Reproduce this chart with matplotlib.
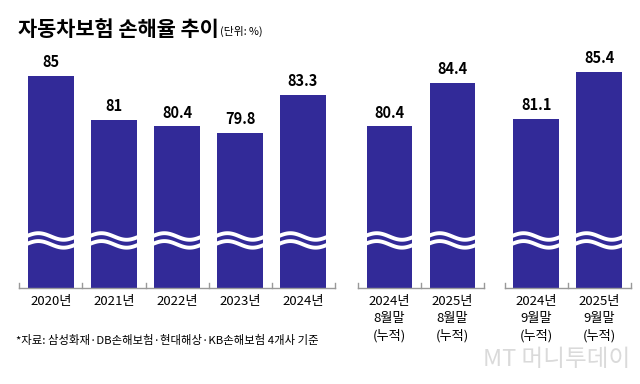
import matplotlib
matplotlib.use("Agg")
import matplotlib.pyplot as plt
import numpy as np

plt.rcParams['font.family'] = ['Noto Sans CJK KR', 'DejaVu Sans']

labels = ["2020년", "2021년", "2022년", "2023년", "2024년",
          "2024년\n8월말\n(누적)", "2025년\n8월말\n(누적)",
          "2024년\n9월말\n(누적)", "2025년\n9월말\n(누적)"]
values = [85, 81, 80.4, 79.8, 83.3, 80.4, 84.4, 81.1, 85.4]
value_text = ["85", "81", "80.4", "79.8", "83.3", "80.4", "84.4", "81.1", "85.4"]
pos = [0, 1, 2, 3, 4, 5.37, 6.37, 7.7, 8.7]
groups = [(-0.5, 4.5), (4.87, 6.87), (7.2, 9.2)]

color = '#322a98'
ymin, ymax = 65.66, 86.46
wave_y = 70.0

fig = plt.figure(figsize=(6.4, 3.84), dpi=100)
ax = fig.add_axes([20/640, 96/384, 610/640, 228/384])
ax.set_xlim(-0.492, 9.19)
ax.set_ylim(ymin, ymax)

ax.bar(pos, [v - ymin for v in values], bottom=ymin, width=0.72, color=color, zorder=2)

for p, v, t in zip(pos, values, value_text):
    ax.annotate(t, (p, v), xytext=(0, 4), textcoords='offset points',
                ha='center', va='bottom', fontsize=10.5, fontweight='bold')

# wavy break marks
for p in pos:
    xs = np.linspace(p - 0.4, p + 0.4, 60)
    tt = (xs - xs[0]) / (xs[-1] - xs[0])
    for off in (0.36, -0.36):
        ax.plot(xs, wave_y + off + 0.3 * np.sin(2 * np.pi * tt), color='white',
                lw=2.8, zorder=3, solid_capstyle='butt')

# baseline segments with small ticks
for a, b in groups:
    ax.plot([a, b], [ymin, ymin], color='#999999', lw=1, clip_on=False, zorder=4)
    for x in np.arange(a, b + 0.01, 1.0):
        ax.plot([x, x], [ymin, ymin + 0.45], color='#999999', lw=1, clip_on=False, zorder=4)

ax.set_xticks(pos)
ax.set_xticklabels(labels, fontsize=9.5, linespacing=1.4)
ax.tick_params(axis='x', length=0, pad=5)
ax.set_yticks([])
for s in ax.spines.values():
    s.set_visible(False)

fig.text(18/640, 1 - 30/384, "자동차보험 손해율 추이", fontsize=15, fontweight='bold',
         va='center', ha='left')
fig.text(220/640, 1 - 31/384, "(단위: %)", fontsize=7.8, va='center', ha='left')
fig.text(16/640, 1 - 340/384, "*자료: 삼성화재·DB손해보험·현대해상·KB손해보험 4개사 기준",
         fontsize=8.2, va='center', ha='left')
fig.text(630/640, 1 - 360/384, "MT 머니투데이", fontsize=17, color='#dadada',
         va='center', ha='right', style='italic')

fig.savefig("out.png", dpi=100)
